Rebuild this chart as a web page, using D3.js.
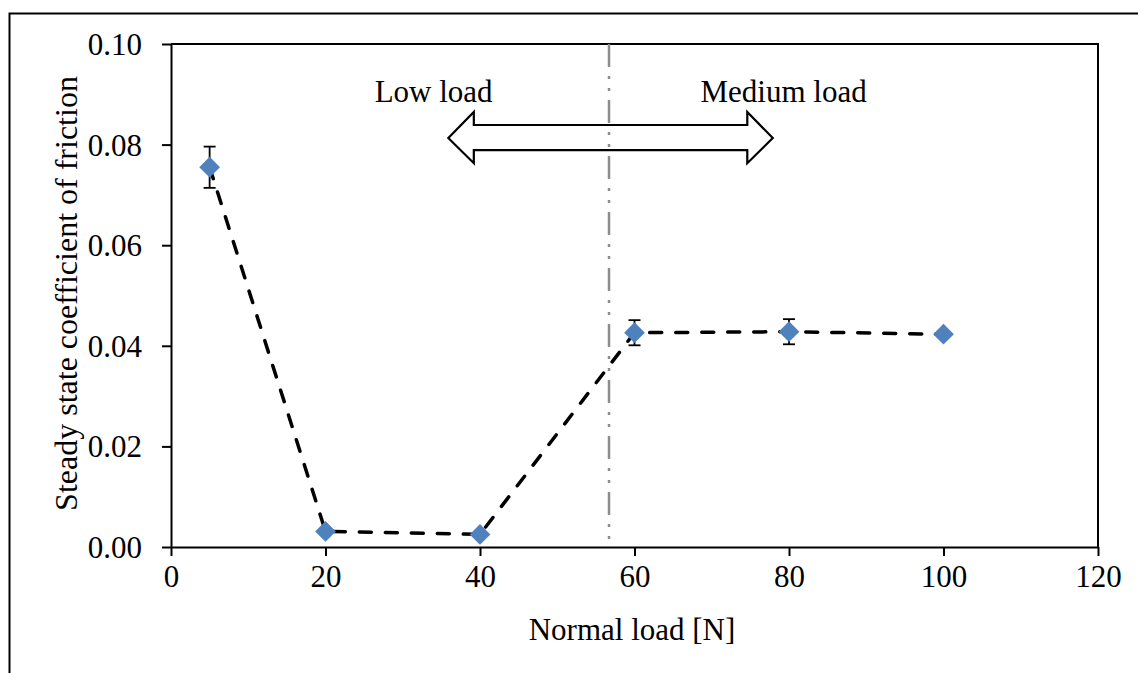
<!DOCTYPE html>
<html>
<head>
<meta charset="utf-8">
<script src="https://cdn.jsdelivr.net/npm/d3@7"></script>
<style>
  html, body { margin: 0; padding: 0; background: #fff; }
  svg { display: block; }
  svg text { fill: #000; }
</style>
</head>
<body>
<svg id="chart" width="1138" height="673"></svg>
<script>
// ---- data ----
const loads = [5, 20, 40, 60, 80, 100];
const friction = [0.0755, 0.0031, 0.0025, 0.0426, 0.0428, 0.0423];
const errors = [0.0041, 0.0004, 0.0003, 0.0025, 0.0025, 0.0006];
const xTicks = [0, 20, 40, 60, 80, 100, 120];
const yTicks = [0, 0.02, 0.04, 0.06, 0.08, 0.10];
const boundaryLoad = 56.7;
const regionLabels = ["Low load", "Medium load"];
const regionLabelX = [34.0, 79.3];
const regionLabelY = [0.0885, 0.0885];
// double arrow outline in data units: [x, y]
const arrowShape = [
  [35.9, 0.0813], [39.2, 0.0865], [39.2, 0.0839], [74.6, 0.0839], [74.6, 0.0865],
  [77.9, 0.0813], [74.6, 0.0763], [74.6, 0.0789], [39.2, 0.0789], [39.2, 0.0763]
];

// ---- layout ----
const svg = d3.select("#chart");
const FONT = "'Liberation Serif', 'Times New Roman', 'DejaVu Serif', serif";
const x = d3.scaleLinear().domain([0, 120]).range([171, 1098]);
const y = d3.scaleLinear().domain([0, 0.10]).range([547, 44]);

// outer frame
svg.append("rect").attr("x", 9.5).attr("y", 13.5).attr("width", 1300).attr("height", 800)
  .attr("fill", "none").attr("stroke", "#000").attr("stroke-width", 2);

// plot box (top + right)
svg.append("path")
  .attr("d", `M${x(0)},${y(0.10)}H${x(120)}V${y(0)}`)
  .attr("fill", "none").attr("stroke", "#000").attr("stroke-width", 2);

const tickSize = 31, labelSize = 31;

// x axis
const xAxis = svg.append("g").attr("transform", `translate(0,${y(0)})`)
  .call(d3.axisBottom(x).tickValues(xTicks).tickSize(9).tickSizeOuter(0).tickFormat(d3.format("d")));
xAxis.attr("font-family", FONT).attr("font-size", tickSize);
xAxis.select(".domain").attr("stroke-width", 2);
xAxis.selectAll(".tick line").attr("stroke-width", 2);
xAxis.selectAll(".tick text").attr("font-size", tickSize).attr("font-family", FONT)
  .attr("y", 18).attr("dy", "0.71em");

// y axis
const yAxis = svg.append("g").attr("transform", `translate(${x(0)},0)`)
  .call(d3.axisLeft(y).tickValues(yTicks).tickSize(9).tickSizeOuter(0).tickFormat(d3.format(".2f")));
yAxis.attr("font-family", FONT).attr("font-size", tickSize);
yAxis.select(".domain").attr("stroke-width", 2);
yAxis.selectAll(".tick line").attr("stroke-width", 2);
yAxis.selectAll(".tick text").attr("font-size", tickSize).attr("font-family", FONT)
  .attr("x", -29).attr("dy", "0.34em");

// axis titles
svg.append("text").attr("x", 632).attr("y", 640).attr("font-family", FONT)
  .attr("text-anchor", "middle").attr("font-size", labelSize).text("Normal load [N]");
svg.append("text").attr("transform", `translate(77,293.5) rotate(-90)`)
  .attr("font-family", FONT)
  .attr("text-anchor", "middle").attr("font-size", 32).text("Steady state coefficient of friction");

// region labels
svg.selectAll("text.region").data(regionLabels).enter().append("text")
  .attr("class", "region")
  .attr("x", (d, i) => x(regionLabelX[i]))
  .attr("y", (d, i) => y(regionLabelY[i]))
  .attr("text-anchor", "middle").attr("font-family", FONT)
  .attr("font-size", labelSize).text(d => d);

// arrow
svg.append("path")
  .attr("d", d3.line().x(d => x(d[0])).y(d => y(d[1]))(arrowShape) + "Z")
  .attr("fill", "#fff").attr("stroke", "#000").attr("stroke-width", 2.2)
  .attr("stroke-linejoin", "miter");

// boundary line
svg.append("line")
  .attr("x1", x(boundaryLoad)).attr("x2", x(boundaryLoad))
  .attr("y1", y(0.10)).attr("y2", y(0))
  .attr("stroke", "#8c8c8c").attr("stroke-width", 2.5)
  .attr("stroke-dasharray", "23,9,3,9,3,9");

// dashed connecting line
const pts = loads.map((l, i) => [l, friction[i]]);
svg.append("path")
  .attr("d", d3.line().x(d => x(d[0])).y(d => y(d[1]))(pts))
  .attr("fill", "none").attr("stroke", "#000").attr("stroke-width", 3.5)
  .attr("stroke-dasharray", "12,14").attr("stroke-linecap", "round");

// error bars
const eb = svg.append("g");
loads.forEach((l, i) => {
  const cx = x(l), y1 = y(friction[i] + errors[i]), y2 = y(friction[i] - errors[i]);
  eb.append("line").attr("x1", cx).attr("x2", cx).attr("y1", y1).attr("y2", y2)
    .attr("stroke", "#000").attr("stroke-width", 1.8);
  [y1, y2].forEach(yy => eb.append("line").attr("x1", cx - 6).attr("x2", cx + 6)
    .attr("y1", yy).attr("y2", yy).attr("stroke", "#000").attr("stroke-width", 1.8));
});

// markers
svg.append("g").selectAll("path").data(pts).enter().append("path")
  .attr("d", d3.symbol().type(d3.symbolSquare).size(215))
  .attr("transform", d => `translate(${x(d[0])},${y(d[1])}) rotate(45)`)
  .attr("fill", "#4F81BD");
</script>
</body>
</html>
